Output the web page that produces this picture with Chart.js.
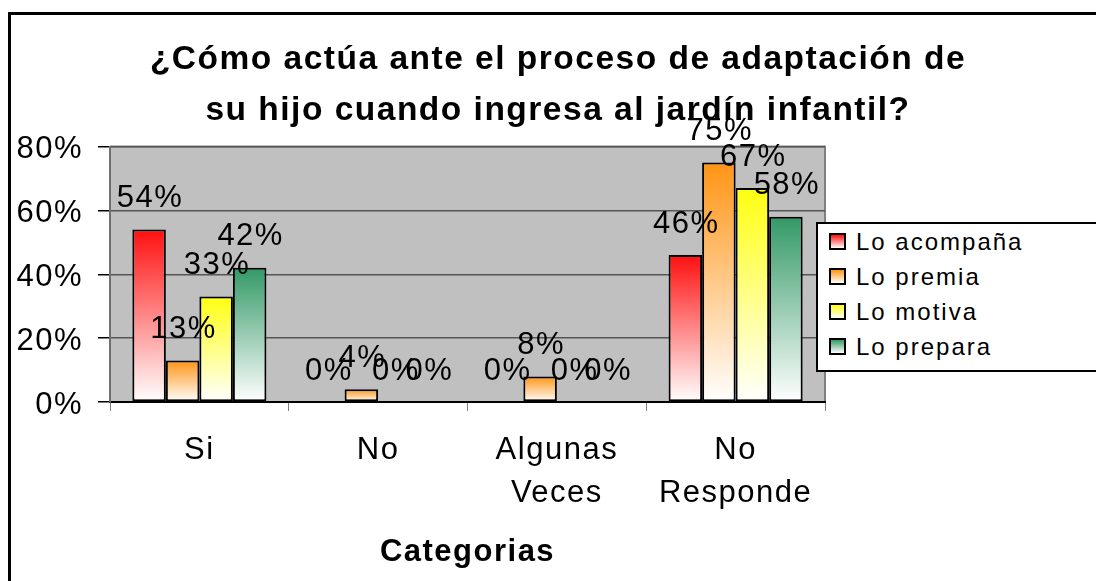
<!DOCTYPE html>
<html>
<head>
<meta charset="utf-8">
<script src="https://cdn.jsdelivr.net/npm/chart.js@4"></script>
<style>
  html, body { margin: 0; padding: 0; background: #fff; overflow: hidden; }
  #wrap { position: relative; width: 1096px; height: 581px; overflow: hidden; }
  #frame {
    position: absolute; left: 8px; top: 12px; width: 1200px; height: 700px;
    border-left: 3px solid #000; border-top: 3px solid #000; pointer-events: none;
  }
  #legend {
    position: absolute; left: 816px; top: 222px; width: 300px; height: 150px;
    background: #fff; border: 2px solid #000; box-sizing: border-box;
    font-family: "Liberation Sans", Arial, sans-serif; font-size: 24px; letter-spacing: 2px;
    padding-top: 0;
  }
  #legend .item { height: 35px; display: flex; align-items: center; }
  #legend .sw { width: 13px; height: 13px; border: 2px solid #000; margin: 0 10px 0 11px; }
</style>
</head>
<body>
<div id="wrap">
  <canvas id="chart" width="1106" height="581"></canvas>
  <div id="legend"></div>
  <div id="frame"></div>
</div>
<script>
const categories = ["Si", "No", ["Algunas", "Veces"], ["No", "Responde"]];
const seriesNames = ["Lo acompaña", "Lo premia", "Lo motiva", "Lo prepara"];
const seriesColors = ["#ff1010", "#ff9414", "#ffff10", "#339966"];
const acompana = [54, 0, 0, 46];
const premia = [13, 4, 8, 75];
const motiva = [33, 0, 0, 67];
const prepara = [42, 0, 0, 58];
const yTicks = [0, 20, 40, 60, 80];
const titleLines = ["¿Cómo actúa ante el proceso de adaptación de", "su hijo cuando ingresa al jardín infantil?"];
const axisTitle = "Categorias";

const seriesValues = [acompana, premia, motiva, prepara];
const fontFamily = '"Liberation Sans", Arial, sans-serif';
const spacing = "1.5px";

const barFill = (color) => (context) => {
  const chart = context.chart;
  const y = chart.scales.y;
  if (!y || context.raw === undefined) return color;
  const top = y.getPixelForValue(context.raw);
  const base = y.getPixelForValue(0);
  if (!Number.isFinite(top) || !Number.isFinite(base) || base - top < 1) return color;
  const g = chart.ctx.createLinearGradient(0, top, 0, base);
  g.addColorStop(0, color);
  g.addColorStop(1, "#ffffff");
  return g;
};

// the original text is drawn a bit wider than Liberation Sans
const wideText = {
  id: "wideText",
  beforeLayout(chart) { chart.ctx.letterSpacing = spacing; },
  beforeDraw(chart) { chart.ctx.letterSpacing = spacing; },
};

const plotBackground = {
  id: "plotBackground",
  beforeDraw(chart) {
    const { ctx, chartArea: a } = chart;
    ctx.save();
    ctx.fillStyle = "#c0c0c0";
    ctx.fillRect(a.left, a.top, a.right - a.left, a.bottom - a.top);
    ctx.strokeStyle = "#808080";
    ctx.lineWidth = 2;
    ctx.beginPath();
    ctx.moveTo(a.left, a.top);
    ctx.lineTo(a.right, a.top);
    ctx.lineTo(a.right, a.bottom);
    ctx.stroke();
    ctx.restore();
  },
};

const valueLabels = {
  id: "valueLabels",
  afterDatasetsDraw(chart) {
    const { ctx } = chart;
    ctx.save();
    ctx.font = `31px ${fontFamily}`;
    ctx.fillStyle = "#000";
    ctx.textAlign = "center";
    ctx.textBaseline = "middle";
    chart.data.datasets.forEach((ds, i) => {
      chart.getDatasetMeta(i).data.forEach((bar, j) => {
        ctx.fillText(`${ds.data[j]}%`, bar.x + 1, bar.y - 31);
      });
    });
    ctx.restore();
  },
};

const legendEl = document.getElementById("legend");
seriesNames.forEach((name, i) => {
  const item = document.createElement("div");
  item.className = "item";
  const sw = document.createElement("span");
  sw.className = "sw";
  sw.style.background = `linear-gradient(${seriesColors[i]}, #fff)`;
  const label = document.createElement("span");
  label.textContent = name;
  item.appendChild(sw);
  item.appendChild(label);
  legendEl.appendChild(item);
});

new Chart(document.getElementById("chart"), {
  type: "bar",
  data: {
    labels: categories,
    datasets: seriesNames.map((name, i) => ({
      label: name,
      data: seriesValues[i],
      backgroundColor: barFill(seriesColors[i]),
      borderColor: "#000",
      borderWidth: (c) => (c.raw === 0 ? 0 : 2),
      borderSkipped: false,
      categoryPercentage: 0.75,
      barPercentage: 1,
    })),
  },
  options: {
    responsive: false,
    animation: false,
    layout: { padding: { left: 10, right: 0, top: 0, bottom: 0 } },
    plugins: {
      legend: { display: false },
      tooltip: { enabled: false },
      title: {
        display: true,
        text: titleLines,
        color: "#000",
        font: { family: fontFamily, size: 33.5, weight: "bold", lineHeight: 1.5 },
        padding: { top: 35, bottom: 11 },
      },
    },
    scales: {
      x: {
        grid: { display: true, drawOnChartArea: false, drawTicks: true, tickLength: 9, color: "#808080", offset: true },
        border: { color: "#000", width: 2 },
        ticks: { color: "#000", padding: 18, font: { family: fontFamily, size: 31, lineHeight: 1.39 }, maxRotation: 0 },
        title: { display: true, text: axisTitle, color: "#000", font: { family: fontFamily, size: 31, weight: "bold" }, padding: { top: 0, bottom: 10 } },
        afterFit: (scale) => { scale.height = 179; },
      },
      y: {
        min: 0,
        max: 80,
        afterBuildTicks: (scale) => { scale.ticks = yTicks.map((v) => ({ value: v })); },
        grid: { color: "#555", lineWidth: 1.5, tickLength: 12, tickColor: "#000" },
        border: { color: "#707070", width: 2 },
        ticks: { color: "#000", padding: 15, labelOffset: 3, font: { family: fontFamily, size: 31 }, callback: (v) => `${v}%` },
        afterFit: (scale) => { scale.width = 100; },
      },
      y2: {
        position: "right",
        display: true,
        grid: { display: false },
        border: { display: false },
        ticks: { display: false },
        afterFit: (scale) => { scale.width = 281; },
      },
    },
  },
  plugins: [wideText, plotBackground, valueLabels],
});
</script>
</body>
</html>
